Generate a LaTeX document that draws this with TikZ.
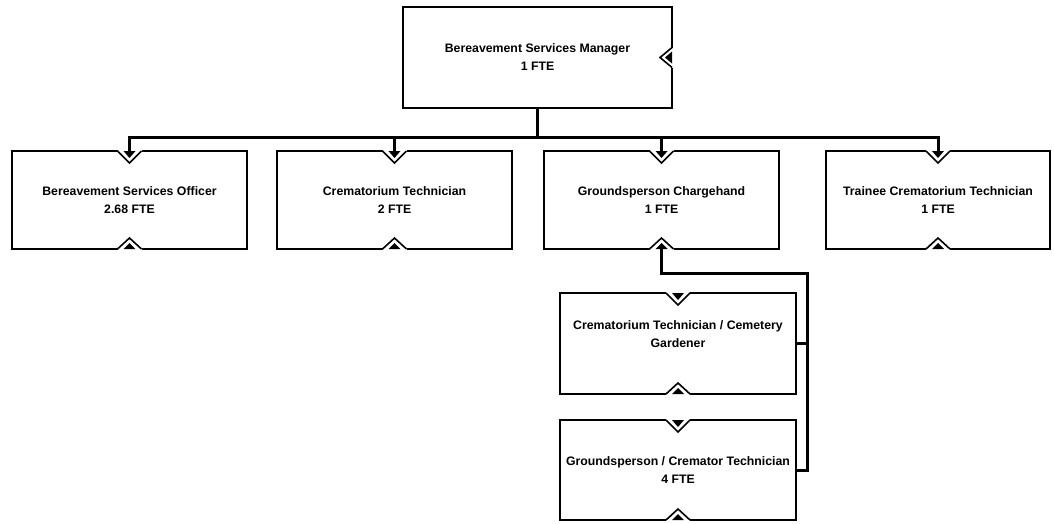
\documentclass[tikz,border=0pt]{standalone}
\usepackage{fontspec}
\setmainfont{Liberation Sans}
\usetikzlibrary{positioning,calc}

\tikzset{
	box/.style={draw, rectangle, line width=1.6pt, inner sep=0pt, outer sep=0pt,
		minimum width=235pt, minimum height=98pt, align=center,
		font=\bfseries\fontsize{12.3}{18}\selectfont},
	link/.style={line width=3pt, line join=miter},
	notchline/.style={line width=1.6pt, line join=miter},
	notch top/.pic={
		\fill[white] (-12,-1.2) rectangle (12,1.2);
		\draw[notchline] (-12,0) -- (0,12) -- (12,0);
		\fill (-6,0) -- (6,0) -- (0,7) -- cycle;
	},
	notch bottom/.pic={
		\fill[white] (-12,-1.2) rectangle (12,1.2);
		\draw[notchline] (-12,0) -- (0,-11) -- (12,0);
		\fill (-6,0) -- (6,0) -- (0,-6) -- cycle;
	},
	notch side/.pic={
		\fill[white] (-1.2,-10) rectangle (1.2,10);
		\draw[notchline] (0,-10) -- (-12,0) -- (0,10);
		\fill (0,-6) -- (0,6) -- (-7,0) -- cycle;
	},
}

\begin{document}
\begin{tikzpicture}[x=1pt, y=-1pt]
	\useasboundingbox (0,0) rectangle (1054,523);
	%% 经理
	\node[box, minimum width=269pt, minimum height=101pt] (boss) at (537.5,57.5) {Bereavement Services Manager\\1 FTE};
	%% 第一行
	\node[box] (officer) at (129.5,200) {Bereavement Services Officer\\2.68 FTE};
	\node[box, right =30pt of officer] (technician) {Crematorium Technician\\2 FTE};
	\node[box, right =32pt of technician] (ground) {Groundsperson Chargehand\\1 FTE};
	\node[box, right =47pt of ground, minimum width=224pt] (trainee) {Trainee Crematorium Technician\\1 FTE};
	%% 第二行
	\node[box, below =44pt of ground, xshift=16.5pt, minimum width=236pt, minimum height=101pt] (cemgard) {Crematorium Technician / Cemetery\\Gardener\\ \mbox{}};
	\node[box, below =26pt of cemgard, minimum width=236pt, minimum height=100pt] (cremator) {Groundsperson / Cremator Technician\\4 FTE};
	% 缺口
	\pic at (boss.east) {notch side};
	\foreach \n in {officer,technician,ground,trainee,cemgard,cremator}{
		\pic at (\n.north) {notch top};
		\pic at (\n.south) {notch bottom};
	}
	% 连线
	\draw[link] (boss.south) -- ++(0,29) coordinate (bus);
	\draw[link] (officer.north) -- (officer.north |- bus) -- (trainee.north |- bus) -- (trainee.north);
	\draw[link] (technician.north) -- (technician.north |- bus);
	\draw[link] (ground.north) -- (ground.north |- bus);
	\draw[link] (ground.south) -- ++(0,24) -| ($(cremator.east)+(11,0)$) coordinate (rail) -- (cremator.east);
	\draw[link] (cemgard.east) -- (cemgard.east -| rail);
\end{tikzpicture}
\end{document}
